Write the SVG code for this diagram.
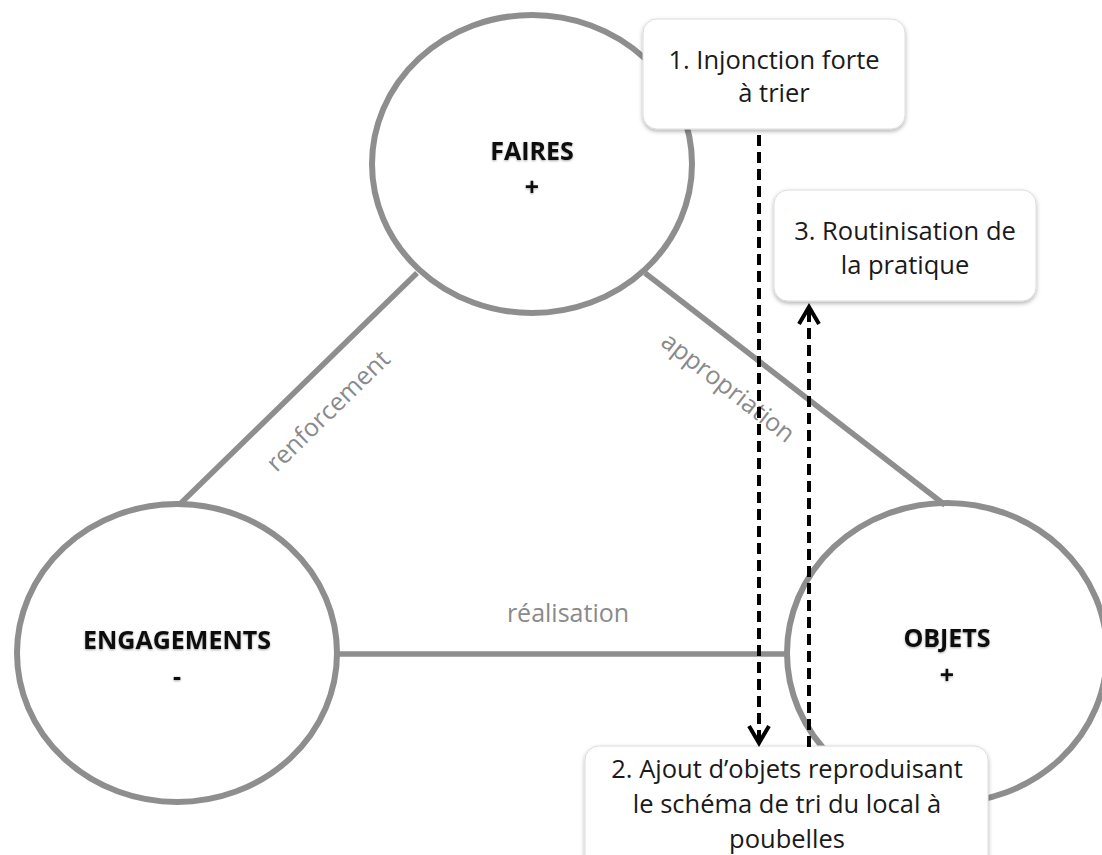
<svg xmlns="http://www.w3.org/2000/svg" width="1102" height="855" viewBox="0 0 1102 855">
  <style>
    .circ { fill: #ffffff; stroke: #8e8e8e; stroke-width: 6; }
    .edge { stroke: #8e8e8e; stroke-width: 5.5; fill: none; }
    .elabel { font-family: "Open Sans", "Liberation Sans", sans-serif; font-size: 25px; fill: #8a8a8a; text-anchor: middle; }
    .ntitle { font-family: "Open Sans", "Liberation Sans", sans-serif; font-size: 25px; font-weight: bold; fill: #111111; text-anchor: middle; }
    .box { fill: #ffffff; stroke: #dcdcdc; stroke-width: 1; }
    .btext { font-family: "Open Sans", "Liberation Sans", sans-serif; font-size: 25.5px; fill: #1a1a1a; text-anchor: middle; }
    .dash { stroke: #000000; stroke-width: 4; stroke-dasharray: 11 6; fill: none; }
  </style>
  <defs>
    <filter id="shadow" x="-10%" y="-10%" width="120%" height="130%">
      <feDropShadow dx="0" dy="2" stdDeviation="2" flood-color="#000000" flood-opacity="0.3"/>
    </filter>
    <filter id="tshadow" x="-10%" y="-30%" width="120%" height="160%">
      <feDropShadow dx="0" dy="1" stdDeviation="1" flood-color="#000000" flood-opacity="0.35"/>
    </filter>
    <marker id="chev" markerUnits="userSpaceOnUse" viewBox="-22 -14 26 28" markerWidth="26" markerHeight="28" refX="0" refY="0" orient="auto" overflow="visible">
      <path d="M -17 -10 L 0 0 L -17 10" fill="none" stroke="#000000" stroke-width="4" stroke-linejoin="miter"/>
    </marker>
  </defs>

  <rect x="0" y="0" width="1102" height="855" fill="#ffffff"/>

  <g id="node-faires">
    <ellipse class="circ" cx="532" cy="164" rx="160" ry="149"/>
    <text class="ntitle" filter="url(#tshadow)" x="532" y="160">FAIRES</text>
    <text class="ntitle" filter="url(#tshadow)" x="532" y="196">+</text>
  </g>

  <g id="node-engagements">
    <ellipse class="circ" cx="177" cy="653" rx="160" ry="149"/>
    <text class="ntitle" filter="url(#tshadow)" x="177" y="649">ENGAGEMENTS</text>
    <text class="ntitle" filter="url(#tshadow)" x="177" y="685">-</text>
  </g>

  <g id="node-objets">
    <ellipse class="circ" cx="947" cy="653" rx="160" ry="150"/>
    <text class="ntitle" filter="url(#tshadow)" x="947" y="647">OBJETS</text>
    <text class="ntitle" filter="url(#tshadow)" x="947" y="684">+</text>
  </g>

  <g id="connectors">
    <line class="edge" x1="417" y1="273" x2="179" y2="505"/>
    <line class="edge" x1="645" y1="273" x2="945" y2="505"/>
    <line class="edge" x1="337" y1="654" x2="787" y2="654"/>
    <text class="elabel" transform="translate(334 417) rotate(-44.3)">renforcement</text>
    <text class="elabel" transform="translate(723 394) rotate(38)">appropriation</text>
    <text class="elabel" x="568" y="622">réalisation</text>
  </g>

  <g id="node-box1">
    <rect class="box" filter="url(#shadow)" x="643" y="19" width="262" height="110" rx="14"/>
    <text class="btext" x="774" y="69">1. Injonction forte</text>
    <text class="btext" x="774" y="102">à trier</text>
  </g>

  <g id="node-box3">
    <rect class="box" filter="url(#shadow)" x="774" y="190" width="262" height="111" rx="14"/>
    <text class="btext" x="905" y="240">3. Routinisation de</text>
    <text class="btext" x="905" y="274">la pratique</text>
  </g>

  <g id="node-box2">
    <rect class="box" filter="url(#shadow)" x="585" y="746" width="403" height="124" rx="14"/>
    <text class="btext" x="787" y="778">2. Ajout d’objets reproduisant</text>
    <text class="btext" x="787" y="813">le schéma de tri du local à</text>
    <text class="btext" x="787" y="848">poubelles</text>
  </g>

  <g id="arrows">
    <line class="dash" x1="759" y1="135" x2="759" y2="743" marker-end="url(#chev)"/>
    <line class="dash" x1="809" y1="747" x2="809" y2="307" marker-end="url(#chev)"/>
  </g>
</svg>
